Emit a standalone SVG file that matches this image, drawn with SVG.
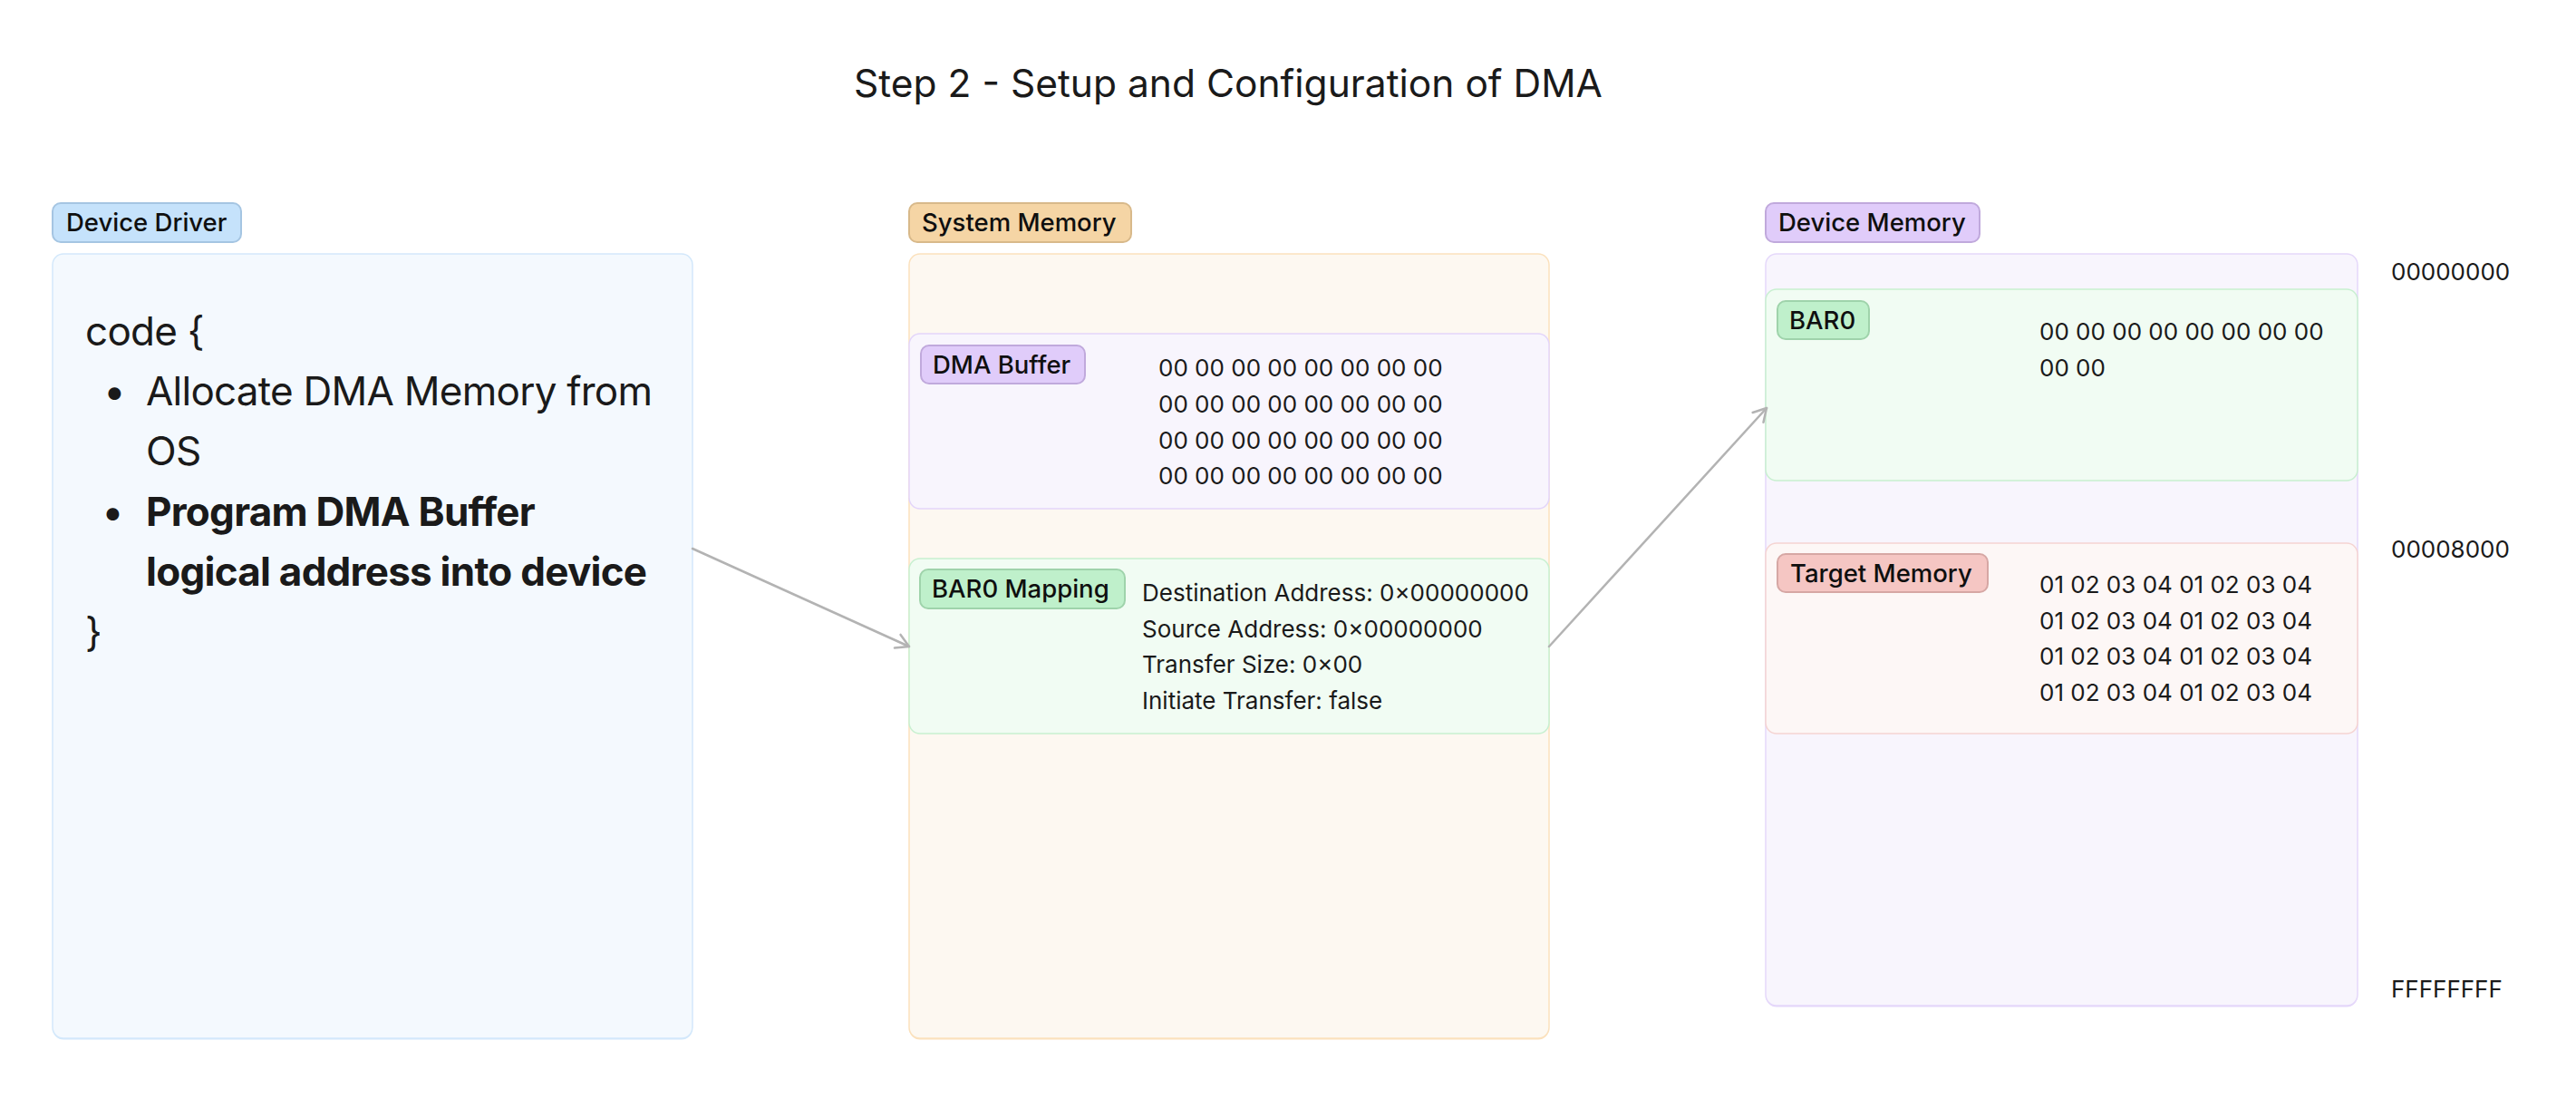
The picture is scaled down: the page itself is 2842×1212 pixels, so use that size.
<svg xmlns="http://www.w3.org/2000/svg" width="2842" height="1212" viewBox="0 0 2842 1212">
<defs>
<style>
text{font-family:Inter,"Noto Sans","Liberation Sans",sans-serif;fill:#1a1a1a}
.title{font-size:42.5px}
.lbl{font-size:27.5px;font-weight:500;fill:#0f0f0f}
.code{font-size:44px;letter-spacing:-0.75px}
.codeb{font-size:44px;font-weight:700;letter-spacing:-0.75px}
.hex{font-size:26px}
.addr{font-size:26px}
.conn{stroke:#b3b3b3;stroke-width:2.5;fill:none;stroke-linecap:round;stroke-linejoin:round}
</style>
<marker id="arr" viewBox="0 0 20 20" refX="18" refY="10" markerWidth="20" markerHeight="20" markerUnits="userSpaceOnUse" orient="auto">
<path d="M4 2 L18 10 L4 18" fill="none" stroke="#b3b3b3" stroke-width="2.5" stroke-linecap="round" stroke-linejoin="round"/>
</marker>
</defs>
<rect width="2842" height="1212" fill="#ffffff"/>
<text class="title" x="1355" y="107" text-anchor="middle">Step 2 - Setup and Configuration of DMA</text>

<g id="device-driver">
<rect x="58" y="281.5" width="706" height="865" rx="12" fill="#d3e8fb"/>
<rect x="58" y="280" width="706" height="865" rx="12" fill="#f4f9fe" stroke="#d3e8fb" stroke-width="1.5"/>
<rect x="58" y="224" width="208" height="43" rx="9" fill="#c5e2fb" stroke="#a5c5e2" stroke-width="2"/>
<text class="lbl" x="73" y="255">Device Driver</text>
<text class="code" x="94" y="381">code {</text>
<text class="code" x="114" y="447">•</text>
<text class="code" x="161" y="447">Allocate DMA Memory from</text>
<text class="code" x="161" y="513">OS</text>
<text class="codeb" x="114" y="580">•</text>
<text class="codeb" x="161" y="580">Program DMA Buffer</text>
<text class="codeb" x="161" y="646">logical address into device</text>
<text class="code" x="94" y="713">}</text>
</g>

<g id="system-memory">
<rect x="1003" y="281.5" width="706" height="865" rx="12" fill="#fbe1bd"/>
<rect x="1003" y="280" width="706" height="865" rx="12" fill="#fdf8f1" stroke="#fbe1bd" stroke-width="1.5"/>
<rect x="1003" y="224" width="245" height="43" rx="9" fill="#f5d5a5" stroke="#d8b98a" stroke-width="2"/>
<text class="lbl" x="1017" y="255">System Memory</text>
</g>

<g id="dma-buffer">
<rect x="1003" y="368" width="706" height="193" rx="12" fill="#f8f5fd" stroke="#e3d5fa" stroke-width="1.5"/>
<rect x="1016" y="381" width="181" height="42" rx="9" fill="#e0ccfa" stroke="#c0a9dc" stroke-width="2"/>
<text class="lbl" x="1029" y="412">DMA Buffer</text>
<text class="hex" x="1278" y="415">00 00 00 00 00 00 00 00</text>
<text class="hex" x="1278" y="455">00 00 00 00 00 00 00 00</text>
<text class="hex" x="1278" y="495">00 00 00 00 00 00 00 00</text>
<text class="hex" x="1278" y="534">00 00 00 00 00 00 00 00</text>
</g>

<g id="bar0-mapping">
<rect x="1003" y="616" width="706" height="193" rx="12" fill="#f1fcf3" stroke="#c8f0d0" stroke-width="1.5"/>
<rect x="1015" y="628" width="226" height="43" rx="9" fill="#bff0cb" stroke="#9fd3ab" stroke-width="2"/>
<text class="lbl" x="1028" y="659">BAR0 Mapping</text>
<text class="hex" x="1260" y="663">Destination Address: 0×00000000</text>
<text class="hex" x="1260" y="703">Source Address: 0×00000000</text>
<text class="hex" x="1260" y="742">Transfer Size: 0×00</text>
<text class="hex" x="1260" y="782">Initiate Transfer: false</text>
</g>

<g id="device-memory">
<rect x="1948" y="281.5" width="653" height="829" rx="12" fill="#e3d5fa"/>
<rect x="1948" y="280" width="653" height="829" rx="12" fill="#f8f5fd" stroke="#e5d8fa" stroke-width="1.5"/>
<rect x="1948" y="224" width="236" height="43" rx="9" fill="#e0ccfa" stroke="#c0a9dc" stroke-width="2"/>
<text class="lbl" x="1962" y="255">Device Memory</text>
</g>

<g id="bar0">
<rect x="1948" y="319" width="653" height="211" rx="12" fill="#f1fcf3" stroke="#c8f0d0" stroke-width="1.5"/>
<rect x="1961" y="332" width="101" height="42" rx="9" fill="#bff0cb" stroke="#9fd3ab" stroke-width="2"/>
<text class="lbl" x="1974" y="363">BAR0</text>
<text class="hex" x="2250" y="375">00 00 00 00 00 00 00 00</text>
<text class="hex" x="2250" y="415">00 00</text>
</g>

<g id="target-memory">
<rect x="1948" y="599" width="653" height="210" rx="12" fill="#fdf7f6" stroke="#f5d4d2" stroke-width="1.5"/>
<rect x="1961" y="611" width="232" height="42" rx="9" fill="#f5c6c3" stroke="#d6a7a4" stroke-width="2"/>
<text class="lbl" x="1975" y="642">Target Memory</text>
<text class="hex" x="2250" y="654">01 02 03 04 01 02 03 04</text>
<text class="hex" x="2250" y="694">01 02 03 04 01 02 03 04</text>
<text class="hex" x="2250" y="733">01 02 03 04 01 02 03 04</text>
<text class="hex" x="2250" y="773">01 02 03 04 01 02 03 04</text>
</g>

<g id="addresses">
<text class="addr" x="2638" y="309">00000000</text>
<text class="addr" x="2638" y="615">00008000</text>
<text class="addr" x="2638" y="1100">FFFFFFFF</text>
</g>

<g id="connectors">
<line class="conn" x1="764" y1="605" x2="1003" y2="713" marker-end="url(#arr)"/>
<line class="conn" x1="1709" y1="713" x2="1949" y2="450" marker-end="url(#arr)"/>
</g>
</svg>
